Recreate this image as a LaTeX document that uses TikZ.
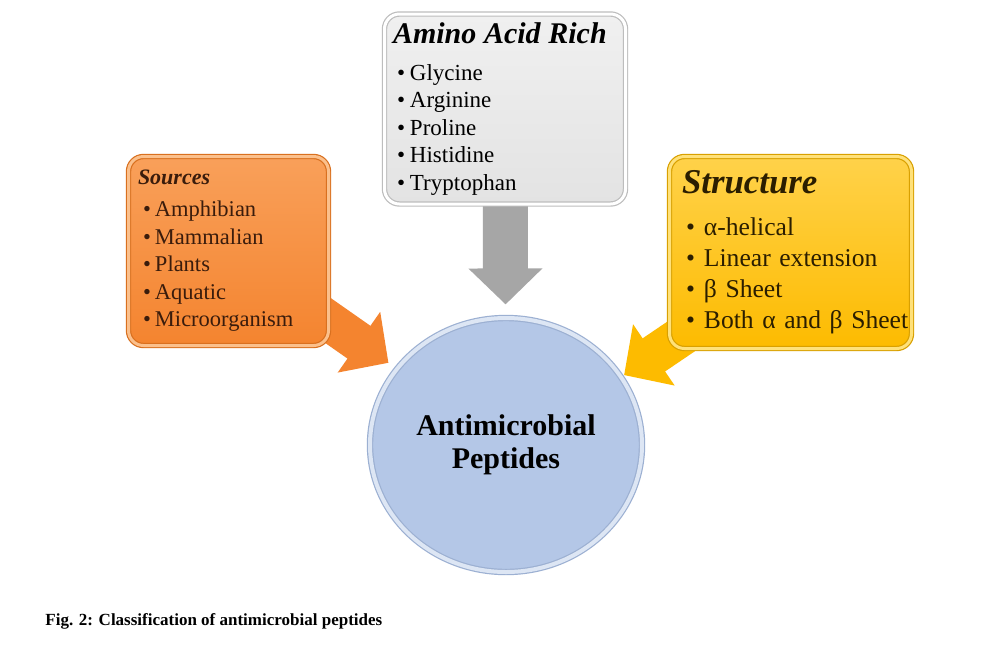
\documentclass[tikz,border=0pt]{standalone}
\usepackage{fontspec}
\setmainfont{Liberation Serif}
\usetikzlibrary{shapes.geometric, arrows.meta, backgrounds}

\definecolor{srcfill}{HTML}{F4842F}
\definecolor{srctop}{HTML}{F9A05A}
\definecolor{srcedge}{HTML}{D9701F}
\definecolor{srclight}{HTML}{FBC08C}
\definecolor{srctext}{HTML}{3A1C0C}
\definecolor{aafill}{HTML}{E3E3E3}
\definecolor{aatop}{HTML}{F0F0F0}
\definecolor{aaedge}{HTML}{BDBDBD}
\definecolor{aaarrow}{HTML}{A6A6A6}
\definecolor{stfill}{HTML}{FDBB00}
\definecolor{sttop}{HTML}{FFD24A}
\definecolor{stedge}{HTML}{D9A000}
\definecolor{stlight}{HTML}{FFE17A}
\definecolor{sttext}{HTML}{2B1E00}
\definecolor{ampfill}{HTML}{B4C7E7}
\definecolor{ampedge}{HTML}{9CB0D2}
\definecolor{amplight}{HTML}{DDE6F4}

\newcommand{\bitem}[3]{\hspace*{#1}\makebox[#2][l]{\textbullet}#3}

\begin{document}
\begin{tikzpicture}[
    x=0.5pt, y=-0.5pt,
    box/.style={draw, rectangle, rounded corners=7.5pt, align=left, inner xsep=0pt, inner ysep=0pt, line width=0.6pt, double distance=1.5pt},
    sourcebox/.style={box, draw=srcedge, double=srclight, top color=srctop, bottom color=srcfill, text=srctext, minimum width=100pt, minimum height=94.5pt, text width=90.5pt, font=\fontsize{11.25}{13.75}\selectfont},
    aminobox/.style={box, draw=aaedge, double=white, top color=aatop, bottom color=aafill, text=black, minimum width=120.5pt, minimum height=95pt, text width=112pt, font=\fontsize{11.5}{13.75}\selectfont},
    structbox/.style={box, draw=stedge, double=stlight, top color=sttop, bottom color=stfill, text=sttext, minimum width=121pt, minimum height=96pt, text width=108.5pt, font=\fontsize{12.8}{15.5}\selectfont},
    ampnode/.style={draw=ampedge, double=amplight, double distance=2pt, line width=0.6pt, fill=ampfill, ellipse, minimum width=136pt, minimum height=127pt, inner sep=0pt, align=center, font=\bfseries\fontsize{15}{16.5}\selectfont},
    blockarrow/.style={line width=20pt, -{Triangle[length=18pt, width=36pt]}},
    caption/.style={font=\bfseries\fontsize{8.5}{10}\selectfont, anchor=base west, inner sep=0pt}
]
\useasboundingbox (0,0) rectangle (1003,645);

% Center
\node[ampnode] (amp) at (506,445) {Antimicrobial\\Peptides};

% Categories
\node[sourcebox] (sources) at (228.5,251) {{\bfseries\itshape\fontsize{11}{13}\selectfont Sources}\\[2.25pt]
    \bitem{2.5pt}{6pt}{Amphibian}\\
    \bitem{2.5pt}{6pt}{Mammalian}\\
    \bitem{2.5pt}{6pt}{Plants}\\
    \bitem{2.5pt}{6pt}{Aquatic}\\
    \bitem{2.5pt}{6pt}{Microorganism}};
\node[aminobox] (amino) at (505,109) {{\bfseries\itshape\fontsize{15}{17}\selectfont Amino~Acid~Rich}\\[4.75pt]
    \bitem{2pt}{6.5pt}{Glycine}\\
    \bitem{2pt}{6.5pt}{Arginine}\\
    \bitem{2pt}{6.5pt}{Proline}\\
    \bitem{2pt}{6.5pt}{Histidine}\\
    \bitem{2pt}{6.5pt}{Tryptophan}};
\node[structbox] (structure) at (790.5,252.5) {{\bfseries\itshape\fontsize{17.4}{20}\selectfont Structure}\\[5.5pt]
    \bitem{2pt}{9pt}{α-helical}\\
    \bitem{2pt}{9pt}{Linear~extension}\\
    \bitem{2pt}{9pt}{β~Sheet}\\
    \bitem{2pt}{9pt}{Both~α~and~β~Sheet}};

% Connections
\begin{scope}[on background layer]
\fill[white] (0,0) rectangle (1003,645);
\draw[blockarrow, draw=srcfill, fill=srcfill, shorten <=-20pt, shorten >=5pt] (sources) -- (amp);
\draw[blockarrow, draw=aaarrow, fill=aaarrow, line width=22.5pt, shorten <=-20pt, shorten >=6.5pt] (amino) -- (amp);
\draw[blockarrow, draw=stfill, fill=stfill, shorten <=-20pt, shorten >=4.5pt, transform canvas={yshift=-5pt}] (structure) -- (amp);
\end{scope}

% Caption
\node[caption] (cap) at (45,625) {Fig. 2: Classification of antimicrobial peptides};

\end{tikzpicture}
\end{document}
